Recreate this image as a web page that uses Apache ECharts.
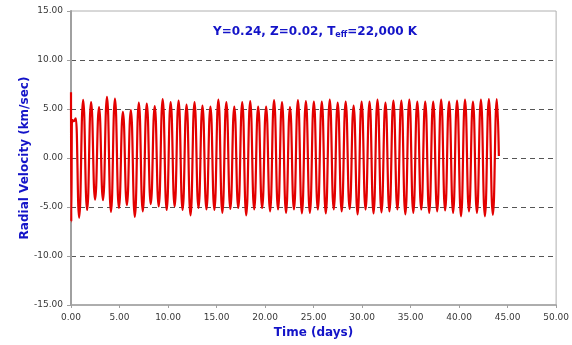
<!DOCTYPE html>
<html>
<head>
<meta charset="utf-8">
<style>
  html, body { margin: 0; padding: 0; background: #fff; }
  #chart { width: 572px; height: 345px; }
</style>
<script src="https://cdn.jsdelivr.net/npm/echarts@6/dist/echarts.min.js"></script>
</head>
<body>
<div id="chart"></div>
<script>
// Time samples (days): start-up transient, then alternating minima / maxima of the pulsation
const days = [
  0.00, 0.03, 0.10, 0.30, 0.50,
  0.84, 1.25, 1.66, 2.07, 2.48, 2.89, 3.30, 3.71, 4.12, 4.53,
  4.94, 5.35, 5.76, 6.17, 6.58, 6.99, 7.40, 7.81, 8.22, 8.63,
  9.04, 9.45, 9.86, 10.27, 10.68, 11.09, 11.50, 11.91, 12.32, 12.73,
  13.14, 13.55, 13.96, 14.37, 14.78, 15.19, 15.60, 16.01, 16.42, 16.83,
  17.24, 17.65, 18.06, 18.47, 18.88, 19.29, 19.70, 20.11, 20.52, 20.93,
  21.34, 21.75, 22.16, 22.57, 22.98, 23.39, 23.80, 24.21, 24.62, 25.03,
  25.44, 25.85, 26.26, 26.67, 27.08, 27.49, 27.90, 28.31, 28.72, 29.13,
  29.54, 29.95, 30.36, 30.77, 31.18, 31.59, 32.00, 32.41, 32.82, 33.23,
  33.64, 34.05, 34.46, 34.87, 35.28, 35.69, 36.10, 36.51, 36.92, 37.33,
  37.74, 38.15, 38.56, 38.97, 39.38, 39.79, 40.20, 40.61, 41.02, 41.43,
  41.84, 42.25, 42.66, 43.07, 43.48, 43.89,
  44.10
];

// Radial velocity (km/sec) at each time sample
const velocity = [
  6.7, -6.5, 3.9, 3.75, 4.05,
  -6.1, 5.94, -5.3, 5.7, -4.25, 5.2, -4.3, 6.25, -5.5, 6.05,
  -5.1, 4.7, -4.8, 4.9, -6.0, 5.65, -5.45, 5.55, -4.7, 5.3,
  -4.95, 6.0, -5.3, 5.7, -4.95, 5.85, -5.3, 5.45, -5.85, 5.7,
  -5.1, 5.35, -5.25, 5.25, -5.3, 5.95, -5.6, 5.7, -5.2, 5.25,
  -5.1, 5.7, -5.85, 5.8, -5.25, 5.25, -5.1, 5.25, -5.45, 5.9,
  -5.25, 5.7, -5.6, 5.2, -5.25, 5.9, -5.65, 5.8, -5.6, 5.75,
  -5.25, 5.75, -5.65, 5.95, -5.25, 5.65, -5.45, 5.75, -5.2, 5.35,
  -5.75, 5.75, -5.25, 5.75, -5.65, 5.95, -5.55, 5.65, -5.45, 5.85,
  -5.25, 5.85, -5.75, 5.95, -5.6, 5.75, -5.25, 5.75, -5.6, 5.75,
  -5.45, 5.95, -5.35, 5.75, -5.6, 5.85, -5.95, 5.95, -5.45, 5.75,
  -5.6, 5.95, -5.95, 6.0, -5.8, 6.0,
  0.2
];

const xRange = { min: 0, max: 50, step: 5 };
const yRange = { min: -15, max: 15, step: 5 };

const blue = '#1414c8';
const labelFont = { fontFamily: 'DejaVu Sans', fontSize: 9, color: '#383838' };

const chart = echarts.init(document.getElementById('chart'), null, { renderer: 'canvas' });

chart.setOption({
  animation: false,
  backgroundColor: '#fff',
  title: {
    text: '{a|Y=0.24, Z=0.02, T}{s|eff}{a|=22,000 K}',
    left: 208,
    top: 20,
    textStyle: {
      rich: {
        a: { fontFamily: 'DejaVu Sans', fontWeight: 'bold', fontSize: 12, color: blue },
        s: { fontFamily: 'DejaVu Sans', fontWeight: 'bold', fontSize: 8, color: blue, verticalAlign: 'bottom', padding: [6, 0, 0, 0] }
      }
    }
  },
  grid: {
    left: 71, right: 14, top: 11, bottom: 40,
    show: true, borderColor: '#b0b0b0', borderWidth: 1
  },
  xAxis: {
    type: 'value',
    min: xRange.min, max: xRange.max, interval: xRange.step,
    name: 'Time (days)',
    nameLocation: 'middle',
    nameGap: 22,
    nameMoveOverlap: false,
    nameTextStyle: { fontFamily: 'DejaVu Sans', fontWeight: 'bold', fontSize: 12, color: blue },
    axisLine: { onZero: false, lineStyle: { color: '#a0a0a0', width: 1.5 } },
    axisTick: { show: true, length: 3, lineStyle: { color: '#a0a0a0' } },
    axisLabel: Object.assign({ margin: 8, formatter: v => v.toFixed(2) }, labelFont),
    splitLine: { show: false }
  },
  yAxis: {
    type: 'value',
    min: yRange.min, max: yRange.max, interval: yRange.step,
    name: 'Radial Velocity (km/sec)',
    nameLocation: 'middle',
    nameGap: 40,
    nameMoveOverlap: false,
    nameTextStyle: { fontFamily: 'DejaVu Sans', fontWeight: 'bold', fontSize: 12, color: blue },
    axisLine: { show: true, onZero: false, lineStyle: { color: '#a0a0a0', width: 2 } },
    axisTick: { show: true, length: 4, lineStyle: { color: '#a0a0a0' } },
    axisLabel: Object.assign({ margin: 8, formatter: v => v.toFixed(2) }, labelFont),
    splitLine: {
      show: true,
      showMinLine: false,
      showMaxLine: false,
      lineStyle: { color: '#555', type: [5, 4], width: 1 }
    }
  },
  series: [{
    type: 'line',
    data: days.map((t, i) => [t, velocity[i]]),
    showSymbol: false,
    smooth: 0.5,
    smoothMonotone: 'x',
    lineStyle: { color: '#e30000', width: 2.2 },
    z: 3
  }]
});
</script>
</body>
</html>
